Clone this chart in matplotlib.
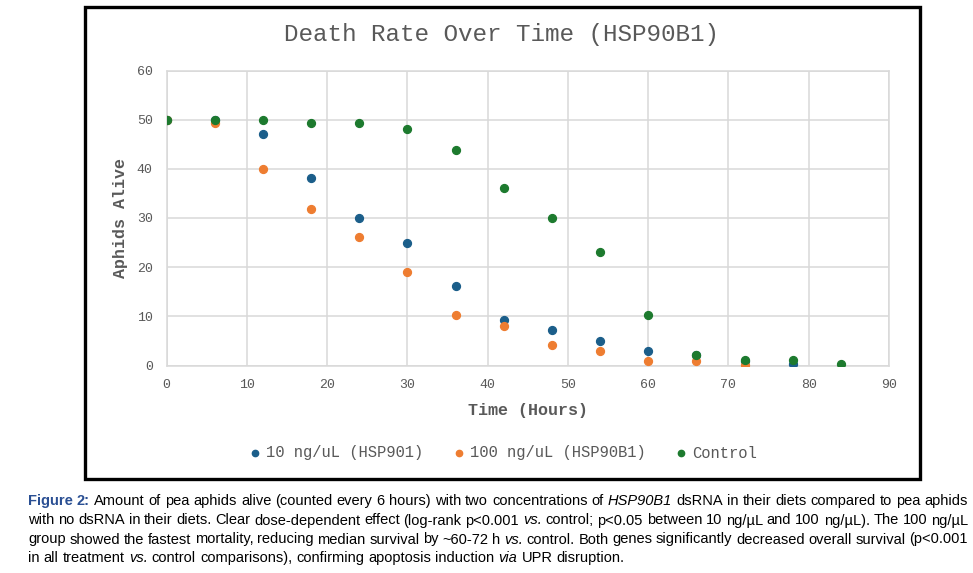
import matplotlib
matplotlib.use("Agg")
import matplotlib.pyplot as plt
from matplotlib.patches import Rectangle

hours = [0, 6, 12, 18, 24, 30, 36, 42, 48, 54, 60, 66, 72, 78]
low_dose = [50, 50, 47, 38.1, 30, 25, 16.1, 9.3, 7.2, 4.9, 3.0, 2.1, 1.0, 0.3]
hours_high = [0, 6, 12, 18, 24, 30, 36, 42, 48, 54, 60, 66, 72]
high_dose = [50, 49.3, 40, 31.9, 26.1, 19.1, 10.3, 8.0, 4.2, 3.0, 1.0, 0.9, 0.2]
hours_ctrl = [0, 6, 12, 18, 24, 30, 36, 42, 48, 54, 60, 66, 72, 78, 84]
control = [50, 50, 50, 49.3, 49.3, 48.1, 43.9, 36.1, 30.1, 23.0, 10.3, 2.2, 1.1, 1.1, 0.3]

series_labels = ["10 ng/uL (HSP901)", "100 ng/uL (HSP90B1)", "Control"]
colors = ["#1b5e8a", "#ee7d31", "#1d7a2e"]
title = "Death Rate Over Time (HSP90B1)"
x_ticks = [0, 10, 20, 30, 40, 50, 60, 70, 80, 90]
y_ticks = [0, 10, 20, 30, 40, 50, 60]

W, H = 973, 573
fig = plt.figure(figsize=(W / 100, H / 100), dpi=100)
mono = "Liberation Mono"
gray = "#595959"

ax = fig.add_axes([166.7 / W, 1 - 365.5 / H, (889 - 166.7) / W, (365.5 - 70.5) / H])
ax.scatter(hours, low_dose, s=32, color=colors[0], label=series_labels[0], zorder=3)
ax.scatter(hours_high, high_dose, s=32, color=colors[1], label=series_labels[1], zorder=4)
ax.scatter(hours_ctrl, control, s=32, color=colors[2], label=series_labels[2], zorder=5)
ax.set_xlim(0, 90)
ax.set_ylim(0, 60)
ax.set_xticks(x_ticks)
ax.set_yticks(y_ticks)
ax.grid(True, color="#d9d9d9", lw=1.1, zorder=0)
ax.set_axisbelow(True)
for sp in ax.spines.values():
    sp.set_color("#d9d9d9")
    sp.set_linewidth(1.1)
ax.tick_params(length=0, labelsize=9.5, labelcolor=gray, pad=10)
for lab in ax.get_xticklabels() + ax.get_yticklabels():
    lab.set_fontfamily(mono)
ax.tick_params(axis="y", pad=10)
ax.set_xlabel("Time (Hours)", fontfamily=mono, fontsize=12, fontweight="bold", color=gray, labelpad=8)
ax.set_ylabel("Aphids Alive", fontfamily=mono, fontsize=12, fontweight="bold", color=gray, labelpad=6)

fig.text(502 / W, 1 - 35 / H, title, ha="center", va="center", fontfamily=mono, fontsize=17.5, color=gray)

leg = fig.legend(loc="center", bbox_to_anchor=(502 / W, 1 - 453 / H), ncol=3, frameon=False,
                 prop={"family": mono, "size": 11.2}, handletextpad=0.2, columnspacing=1.8,
                 handlelength=1.0, markerscale=0.8)
for t in leg.get_texts():
    t.set_color(gray)

fig.patches.append(Rectangle((85 / W, 1 - 479 / H), (920 - 85) / W, (479 - 6.5) / H,
                             transform=fig.transFigure, fill=False, ec="black", lw=2.4))

# caption
cap_family = ["Liberation Sans Narrow", "Liberation Sans"]
cap_size = 10.5
lines = [
    [("Figure 2:", "b"), (" Amount of pea aphids alive (counted every 6 hours) with two concentrations of ", "n"),
     ("HSP90B1", "i"), (" dsRNA in their diets compared to pea aphids", "n")],
    [("with no dsRNA in their diets. Clear dose-dependent effect (log-rank p<0.001 ", "n"), ("vs.", "i"),
     (" control; p<0.05 between 10 ng/\u00b5L and 100 ng/\u00b5L). The 100 ng/\u00b5L", "n")],
    [("group showed the fastest mortality, reducing median survival by ~60-72 h ", "n"), ("vs.", "i"),
     (" control. Both genes significantly decreased overall survival (p<0.001", "n")],
    [("in all treatment ", "n"), ("vs.", "i"), (" control comparisons), confirming apoptosis induction ", "n"),
     ("via", "i"), (" UPR disruption.", "n")],
]
baselines = [505, 524.5, 543.5, 562]
x0, x1 = 28, 968

fig.canvas.draw()
r = fig.canvas.get_renderer()

def style_kw(st):
    kw = dict(fontfamily=cap_family, fontsize=cap_size, color="black")
    if st == "b":
        kw.update(fontweight="bold", color="#2a4f93")
    if st == "i":
        kw.update(fontstyle="italic")
    return kw

def measure(s, st):
    t = fig.text(0, 0, s, **style_kw(st))
    w = t.get_window_extent(r).width
    t.remove()
    return w

def advance(s, st):
    return measure("|" + s + "|", st) - measure("||", st)

space_w = advance(" ", "n")
for li, (segs, yb) in enumerate(zip(lines, baselines)):
    words = []
    for text, st in segs:
        for w in text.split(" "):
            if w:
                words.append((w, st))
    widths = [advance(w, st) for w, st in words]
    natural = sum(widths) + space_w * (len(words) - 1)
    extra = (x1 - x0 - natural) / (len(words) - 1) if li < len(lines) - 1 else 0.0
    x = x0
    for (w, st), wd in zip(words, widths):
        fig.text(x / W, 1 - yb / H, w, va="baseline", ha="left", **style_kw(st))
        x += wd + space_w + extra

fig.savefig("out.png", dpi=100)
